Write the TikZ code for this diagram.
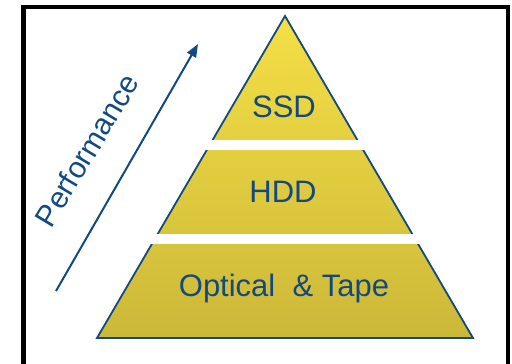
\documentclass[tikz,border=0pt]{standalone}
\usepackage{fontspec}
\setmainfont{Liberation Sans}
\usetikzlibrary{shapes, arrows.meta, positioning}
\definecolor{perfblue}{RGB}{18,74,128}
\definecolor{tiertop}{RGB}{244,223,70}
\definecolor{tierbottom}{RGB}{204,184,56}
\tikzset{
	tier/.style={text=perfblue, font=\fontsize{31}{37}\selectfont, anchor=base},
	gap/.style={fill=white}
}

\begin{document}
\begin{tikzpicture}[x=1pt,y=-1pt]
	\useasboundingbox (0,0) rectangle (512,364);
	% frame, open at the bottom
	\draw[line width=4.5pt] (23.5,372) -- (23.5,7) -- (508,7) -- (508,372);
	
	% pyramid
	\coordinate (apex) at (285,16);
	\coordinate (baseL) at (97,338);
	\coordinate (baseR) at (473,338);
	\fill[top color=tiertop, bottom color=tierbottom] (apex) -- (baseR) -- (baseL) -- cycle;
	\draw[perfblue, line width=1.8pt] (apex) -- (baseR) -- (baseL) -- cycle;
	\fill[gap] (150,140) rectangle (420,150);
	\fill[gap] (150,234) rectangle (420,244);
	
	% tier labels
	\node[tier] (ssd) at (284,117) {SSD};
	\node[tier] (hdd) at (283,202.5) {HDD};
	\node[tier] (optical) at (284,296) {Optical\ \ \& Tape};
	
	% performance arrow
	\coordinate (perf start) at (56,291);
	\coordinate (perf end) at (198,44);
	\draw[perfblue, line width=2pt, -{Triangle[length=13pt,width=10pt]}] (perf start) -- (perf end);
	\node[text=perfblue, font=\fontsize{30}{36}\selectfont, rotate=59] (perf) at (87,150) {Performance};
\end{tikzpicture}
\end{document}
